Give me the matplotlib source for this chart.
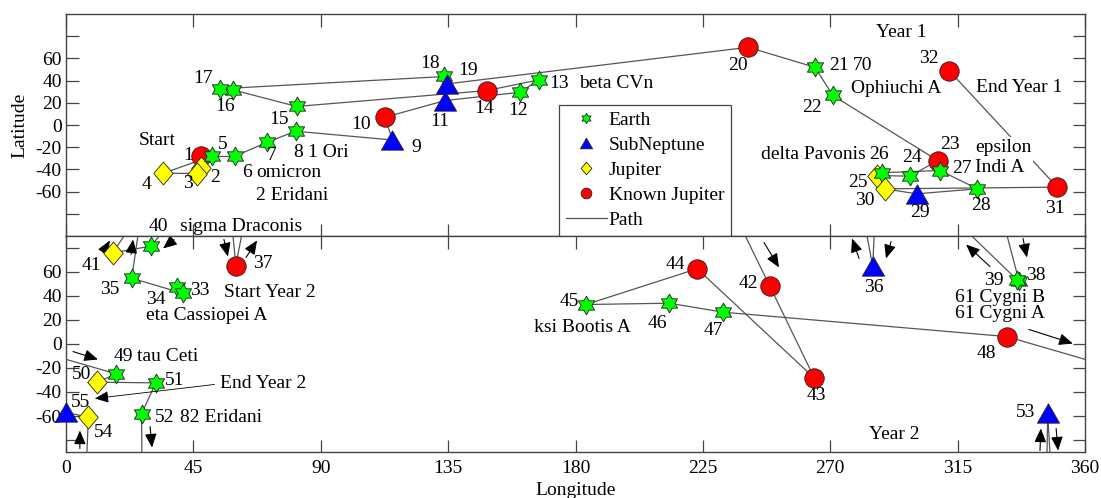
import matplotlib
matplotlib.use("Agg")
import matplotlib.pyplot as plt
from matplotlib.path import Path
from matplotlib.lines import Line2D
import numpy as np

plt.rcParams['font.family'] = ['Liberation Serif', 'DejaVu Serif']
plt.rcParams['font.size'] = 14

# ---------------- data ----------------
# Year 1 (upper panel)
y1_id = list(range(1, 33))
y1_lon = [47.7, 47.7, 46.3, 34.4, 51.5, 59.7, 71.1, 81.1, 115.3, 112.7,
          133.9, 160.4, 167.1, 148.6, 81.5, 58.9, 54.4, 133.7, 134.5, 241.0,
          264.6, 270.9, 308.0, 298.2, 286.4, 288.2, 308.8, 322.0, 300.5, 289.3,
          350.2, 312.0]
y1_lat = [-27.5, -38.3, -43.7, -43.4, -28.1, -28.1, -15.5, -5.6, -13.5, 7.0,
          22.0, 29.5, 40.7, 31.0, 16.7, 31.7, 32.6, 43.7, 37.0, 70.0,
          52.0, 26.6, -32.0, -46.1, -45.5, -43.0, -41.0, -57.5, -62.0, -57.5,
          -56.0, 49.0]
y1_type = ['K', 'J', 'J', 'J', 'E', 'E', 'E', 'E', 'S', 'K',
           'S', 'E', 'E', 'K', 'E', 'E', 'E', 'E', 'S', 'K',
           'E', 'E', 'K', 'E', 'J', 'E', 'E', 'E', 'S', 'J',
           'K', 'K']

# Year 2 (lower panel)
y2_id = list(range(33, 56))
y2_lon = [39.3, 41.2, 23.2, 285.0, 60.0, 336.7, 336.0, 29.9, 16.5, 248.7,
          264.4, 223.0, 183.7, 213.1, 232.2, 332.3, 17.7, 11.1, 31.7, 26.7,
          346.8, 7.9, 0.0]
y2_lat = [47.3, 42.3, 54.8, 64.6, 65.4, 52.3, 53.5, 81.5, 76.0, 48.0,
          -28.5, 62.7, 32.9, 34.0, 26.5, 6.2, -24.9, -31.8, -32.4, -58.2,
          -57.6, -61.0, -57.0]
y2_type = ['E', 'E', 'E', 'S', 'K', 'E', 'E', 'E', 'J', 'K',
           'K', 'K', 'E', 'E', 'E', 'K', 'E', 'J', 'E', 'E',
           'S', 'J', 'S']

# polar crossings in year 2 (segment from -> to leaves through a pole)
cross_from = [35, 36, 37, 39, 41, 52, 53]
cross_to = [36, 37, 38, 40, 42, 53, 54]
cross_exit_lon = [25.4, 283.0, 62.0, 320.0, 20.5, 26.8, 347.6]
cross_entry_lon = [285.5, 59.0, 332.5, 33.0, 240.0, 346.6, 7.4]
cross_edge_lat = [90, 90, 90, 90, 90, -90, -90]

# direction arrows in year 2 (tail lon, tail lat, head lon, head lat)
arr_x0 = [13.1, 23.0, 38.2, 55.8, 63.6, 246.6, 280.2, 291.5, 326.4, 338.1,
          340.2, 2.5, 29.7, 4.9, 344.1, 349.8]
arr_y0 = [76.3, 74.6, 87.1, 87.1, 72.1, 84.6, 71.3, 85.4, 64.6, 87.9,
          12.1, -6.3, -68.8, -87.1, -88.8, -70.4]
arr_x1 = [15.5, 23.7, 34.3, 57.2, 67.5, 251.9, 277.7, 289.7, 318.0, 339.5,
          355.7, 11.3, 30.4, 4.9, 344.4, 350.5]
arr_y1 = [86.3, 87.1, 79.6, 72.9, 86.3, 63.8, 87.9, 71.3, 82.9, 72.1,
          0.4, -12.9, -86.3, -72.1, -70.4, -88.8]

# star names (upper panel)
n1_text = ['Start', '1 Ori', 'omicron', '2 Eridani', 'beta CVn', '70',
           'Ophiuchi A', 'delta Pavonis', 'epsilon\nIndi A', 'Year 1', 'End Year 1']
n1_lon = [32.1, 85.5, 67.1, 67.1, 181.4, 278.1, 277.2, 282.6, 321.3, 295.2, 336.7]
n1_lat = [-13.9, -24.5, -42.8, -63.5, 37.1, 53.6, 32.6, -26.6, -29.0, 83.6, 34.0]
# star names (lower panel)
n2_text = ['Start Year 2', 'eta Cassiopei A', 'tau Ceti', '82 Eridani',
           'ksi Bootis A', '61 Cygni B', '61 Cygni A', 'Year 2']
n2_lon = [72.1, 49.7, 25.0, 40.3, 182.5, 330.0, 330.0, 292.5]
n2_lat = [43.2, 23.8, -10.4, -61.5, 14.0, 39.0, 25.7, -75.4]

end2_text = 'End Year 2'
end2_text_pos = (54.4, -33.2)
end2_target = (10.2, -45.4)

# ---------------- styling ----------------
def hexagram():
    return Path.unit_regular_star(6, 0.577)

tri = Path([(0, 0.87), (-1, -0.87), (1, -0.87), (0, 0.87)],
           [Path.MOVETO, Path.LINETO, Path.LINETO, Path.CLOSEPOLY])
dia = Path([(0, 1), (0.85, 0), (0, -1), (-0.85, 0), (0, 1)],
           [Path.MOVETO, Path.LINETO, Path.LINETO, Path.LINETO, Path.CLOSEPOLY])

styles = {
    'E': dict(marker=hexagram(), ms=13.5, mfc='#00ff00', label='Earth'),
    'S': dict(marker=tri, ms=16, mfc='#0000ff', label='SubNeptune'),
    'J': dict(marker=dia, ms=16.5, mfc='#ffff00', label='Jupiter'),
    'K': dict(marker='o', ms=14, mfc='#ff0000', label='Known Jupiter'),
}
LINEC = '#555555'
SPINEC = '#444444'

# label offsets in pixels (dx, dy up) for the numbers
off = {
    1: (-13, 0), 2: (14, -10), 3: (-9, -10), 4: (-17, -11), 5: (11, 12),
    6: (12, -16), 7: (4, -13), 8: (3, -21), 9: (24, -8), 10: (-24, -7),
    11: (-5, -21), 12: (-2, -18), 13: (20, -4), 14: (-3, -18), 15: (-18, -13),
    16: (-8, -17), 17: (-17, 10), 18: (-14, 13), 19: (21, 13), 20: (-10, -18),
    21: (24, 2), 22: (-21, -12), 23: (12, 16), 24: (2, 19), 25: (-19, -7),
    26: (-3, 18), 27: (22, 2), 28: (3, -17), 29: (3, -19), 30: (-20, -12),
    31: (-2, -21), 32: (-20, 12),
    33: (23, -3), 34: (-27, -6), 35: (-22, -11), 36: (1, -21), 37: (27, 2),
    38: (17, 6), 39: (-23, -1), 40: (8, 20), 41: (-21, -13), 42: (-22, 3),
    43: (2, -17), 44: (-22, 4), 45: (-17, 3), 46: (-12, -20), 47: (-10, -18),
    48: (-20, -17), 49: (7, 17), 50: (-16, 8), 51: (19, 2), 52: (23, -4),
    53: (-22, 1), 54: (15, -15), 55: (15, 10),
}

W, H = 1101, 498
fig = plt.figure(figsize=(W / 100, H / 100), dpi=100)
L, R = 66 / W, 1085 / W
ax1 = fig.add_axes([L, 1 - 236 / H, R - L, (236 - 14) / H])
ax2 = fig.add_axes([L, 1 - 452 / H, R - L, (452 - 236) / H])

ax1.set_ylim(-100, 100)
ax2.set_ylim(-90, 90)
for ax in (ax1, ax2):
    ax.set_xlim(0, 360)
    ax.set_xticks(np.arange(0, 361, 45))
    ax.set_yticks(np.arange(-80, 81, 20))
    ax.set_yticklabels(['' if abs(v) > 60 else str(v) for v in np.arange(-80, 81, 20)])
    ax.tick_params(direction='in', length=9, width=0.9, color=SPINEC,
                   top=True, right=True, labelsize=14, pad=3)
    for sp in ax.spines.values():
        sp.set_color(SPINEC)
        sp.set_linewidth(1.0)
ax1.tick_params(labelbottom=False)
ax2.tick_params(axis='x', pad=6)
ax1.set_ylabel('Latitude', fontsize=14, labelpad=5)
ax2.set_xlabel('Longitude', fontsize=14, labelpad=3)


def draw_year(ax, ids, lon, lat, types, crossings=None):
    pos = {i: (x, y) for i, x, y in zip(ids, lon, lat)}
    cross = {}
    if crossings:
        for f, t, ex, en, el in zip(*crossings):
            cross[f] = (t, ex, en, el)
    for a, b in zip(ids[:-1], ids[1:]):
        (xa, ya), (xb, yb) = pos[a], pos[b]
        if a in cross:
            t, ex, en, el = cross[a]
            ax.plot([xa, ex], [ya, el], color=LINEC, lw=0.9, zorder=1)
            ax.plot([en, xb], [el, yb], color=LINEC, lw=0.9, zorder=1)
        elif abs(xb - xa) > 180:
            s = 360 if xb < xa else -360
            ax.plot([xa, xb + s], [ya, yb], color=LINEC, lw=0.9, zorder=1)
            ax.plot([xa - s, xb], [ya, yb], color=LINEC, lw=0.9, zorder=1)
        else:
            ax.plot([xa, xb], [ya, yb], color=LINEC, lw=0.9, zorder=1)
    for i, x, y, t in zip(ids, lon, lat, types):
        st = styles[t]
        ax.plot([x], [y], linestyle='none', marker=st['marker'], ms=st['ms'],
                mfc=st['mfc'], mec='#222222', mew=0.6, zorder=3, clip_on=False)
        dx, dy = off[i]
        ax.annotate(str(i), (x, y), xytext=(dx, dy), textcoords='offset pixels',
                    ha='center', va='center', fontsize=14, zorder=4,
                    annotation_clip=False)


draw_year(ax1, y1_id, y1_lon, y1_lat, y1_type)
draw_year(ax2, y2_id, y2_lon, y2_lat, y2_type,
          (cross_from, cross_to, cross_exit_lon, cross_entry_lon, cross_edge_lat))

for t, x, y in zip(n1_text, n1_lon, n1_lat):
    kw = dict(ha='left', va='center', fontsize=14, zorder=4, linespacing=1.25)
    if t in ('Start', 'Year 1', 'End Year 1'):
        kw['ha'] = 'center'
    if t == 'delta Pavonis':
        kw['ha'] = 'right'
    if t.startswith('epsilon'):
        kw['bbox'] = dict(facecolor='white', edgecolor='none', pad=1)
    ax1.text(x, y, t, **kw)

for t, x, y in zip(n2_text, n2_lon, n2_lat):
    kw = dict(ha='center', va='center', fontsize=14, zorder=4)
    if t in ('tau Ceti', '82 Eridani'):
        kw['ha'] = 'left'
    ax2.text(x, y, t, **kw)

# "sigma Draconis" beside label 40 (sits just above the panel separator)
i40 = y2_id.index(40)
ax2.annotate('sigma Draconis', (y2_lon[i40], y2_lat[i40]), xytext=(29, 20),
             textcoords='offset pixels', ha='left', va='center', fontsize=14,
             annotation_clip=False)

for x0, yy0, x1, yy1 in zip(arr_x0, arr_y0, arr_x1, arr_y1):
    ax2.annotate('', xy=(x1, yy1), xytext=(x0, yy0),
                 arrowprops=dict(arrowstyle='-|>,head_length=0.7,head_width=0.3',
                                 color='black', lw=0.8, shrinkA=0, shrinkB=0,
                                 mutation_scale=12), zorder=2)

ax2.annotate(end2_text, xy=end2_target, xytext=end2_text_pos, ha='left', va='center',
             fontsize=14,
             arrowprops=dict(arrowstyle='-|>,head_length=0.7,head_width=0.3',
                             color='black', lw=0.6, shrinkA=2, shrinkB=0,
                             mutation_scale=12, relpos=(0, 0.5)))

handles = [Line2D([], [], linestyle='none', marker=styles[k]['marker'],
                  ms=styles[k]['ms'], mfc=styles[k]['mfc'], mec='#222222', mew=0.6,
                  label=styles[k]['label']) for k in ['E', 'S', 'J', 'K']]
handles.append(Line2D([], [], color=LINEC, lw=0.9, label='Path'))
leg = ax1.legend(handles=handles, loc='lower left', bbox_to_anchor=((559 - 66) / 1019, 0),
                 borderaxespad=0, frameon=True, fancybox=False, framealpha=1,
                 edgecolor=SPINEC, markerscale=0.55, handlelength=2.1,
                 handletextpad=0.1, labelspacing=0.38, borderpad=0.35, fontsize=14)
leg.get_frame().set_linewidth(0.9)
leg.set_zorder(5)

fig.savefig('out.png', dpi=100)
